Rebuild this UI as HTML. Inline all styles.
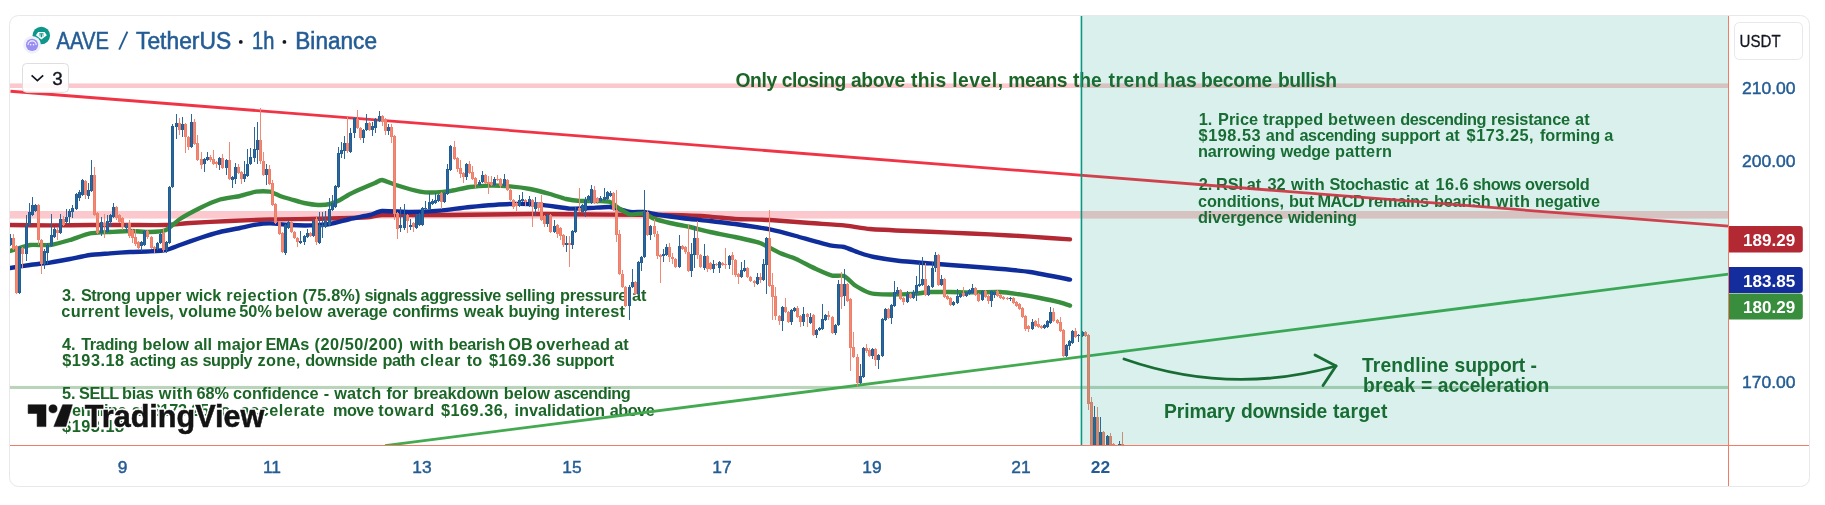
<!DOCTYPE html>
<html><head><meta charset="utf-8"><title>AAVE / TetherUS</title>
<style>
html,body{margin:0;padding:0;background:#fff;}
body{width:1825px;height:505px;overflow:hidden;font-family:"Liberation Sans", sans-serif;}
svg{display:block;font-family:"Liberation Sans", sans-serif;will-change:transform;}
</style></head><body>
<svg width="1825" height="505" viewBox="0 0 1825 505">
<defs><clipPath id="pane"><rect x="10" y="16" width="1718" height="429"/></clipPath></defs>
<rect width="1825" height="505" fill="#fff"/>
<rect x="10" y="83.4" width="1718.5" height="4.6" fill="#f23645" fill-opacity="0.27"/>
<rect x="10" y="211" width="1718.5" height="7.6" fill="#f23645" fill-opacity="0.27"/>
<rect x="10" y="385.9" width="1718.5" height="3.1" fill="#2e7d32" fill-opacity="0.33"/>
<text y="86.8" font-size="19.3" fill="#1b6527" font-weight="bold"><tspan x="735.4" textLength="41.8" lengthAdjust="spacing">Only</tspan><tspan x="781.8" textLength="64.6" lengthAdjust="spacing">closing</tspan><tspan x="851.0" textLength="54.2" lengthAdjust="spacing">above</tspan><tspan x="911.0" textLength="35.2" lengthAdjust="spacing">this</tspan><tspan x="952.2" textLength="50.8" lengthAdjust="spacing">level,</tspan><tspan x="1008.3" textLength="59.2" lengthAdjust="spacing">means</tspan><tspan x="1072.9">the</tspan><tspan x="1108.5" textLength="50.3" lengthAdjust="spacing">trend</tspan><tspan x="1163.5">has</tspan><tspan x="1201.0" textLength="71.2" lengthAdjust="spacing">become</tspan><tspan x="1277.9" textLength="59.2" lengthAdjust="spacing">bullish</tspan></text>
<text y="124.6" font-size="16.3" fill="#1b6527" font-weight="bold"><tspan x="1198.8">1.</tspan><tspan x="1218.0" textLength="40.1" lengthAdjust="spacing">Price</tspan><tspan x="1263.0" textLength="60.1" lengthAdjust="spacing">trapped</tspan><tspan x="1328.0" textLength="67.6" lengthAdjust="spacing">between</tspan><tspan x="1400.3" textLength="86.1" lengthAdjust="spacing">descending</tspan><tspan x="1491.0" textLength="79.1" lengthAdjust="spacing">resistance</tspan><tspan x="1575.1">at</tspan></text>
<text y="141" font-size="16.3" fill="#1b6527" font-weight="bold"><tspan x="1198.6" textLength="61.9" lengthAdjust="spacing">$198.53</tspan><tspan x="1265.8">and</tspan><tspan x="1299.5" textLength="76.6" lengthAdjust="spacing">ascending</tspan><tspan x="1381.0" textLength="59.1" lengthAdjust="spacing">support</tspan><tspan x="1445.3">at</tspan><tspan x="1466.6" textLength="67.0" lengthAdjust="spacing">$173.25,</tspan><tspan x="1540.0" textLength="60.1" lengthAdjust="spacing">forming</tspan><tspan x="1604.2">a</tspan></text>
<text y="157.4" font-size="16.3" fill="#1b6527" font-weight="bold"><tspan x="1198.0" textLength="77.6" lengthAdjust="spacing">narrowing</tspan><tspan x="1280.5" textLength="49.6" lengthAdjust="spacing">wedge</tspan><tspan x="1335.0" textLength="57.0" lengthAdjust="spacing">pattern</tspan></text>
<text y="190.2" font-size="16.3" fill="#1b6527" font-weight="bold"><tspan x="1198.8">2.</tspan><tspan x="1216.0">RSI</tspan><tspan x="1246.8">at</tspan><tspan x="1267.5">32</tspan><tspan x="1291.0" textLength="33.6" lengthAdjust="spacing">with</tspan><tspan x="1329.5" textLength="79.6" lengthAdjust="spacing">Stochastic</tspan><tspan x="1414.8">at</tspan><tspan x="1435.4" textLength="33.2" lengthAdjust="spacing">16.6</tspan><tspan x="1472.7" textLength="48.7" lengthAdjust="spacing">shows</tspan><tspan x="1525.0" textLength="64.6" lengthAdjust="spacing">oversold</tspan></text>
<text y="206.6" font-size="16.3" fill="#1b6527" font-weight="bold"><tspan x="1198.0" textLength="86.1" lengthAdjust="spacing">conditions,</tspan><tspan x="1288.9">but</tspan><tspan x="1317.4" textLength="47.4" lengthAdjust="spacing">MACD</tspan><tspan x="1368.0" textLength="61.1" lengthAdjust="spacing">remains</tspan><tspan x="1434.0" textLength="56.6" lengthAdjust="spacing">bearish</tspan><tspan x="1495.8" textLength="34.1" lengthAdjust="spacing">with</tspan><tspan x="1535.0" textLength="65.0" lengthAdjust="spacing">negative</tspan></text>
<text y="223" font-size="16.3" fill="#1b6527" font-weight="bold"><tspan x="1198.0" textLength="85.1" lengthAdjust="spacing">divergence</tspan><tspan x="1288.0" textLength="69.0" lengthAdjust="spacing">widening</tspan></text>
<text y="300.6" font-size="16.3" fill="#1b6527" font-weight="bold"><tspan x="62.0">3.</tspan><tspan x="80.9" textLength="50.0" lengthAdjust="spacing">Strong</tspan><tspan x="135.5" textLength="45.8" lengthAdjust="spacing">upper</tspan><tspan x="186.2" textLength="35.1" lengthAdjust="spacing">wick</tspan><tspan x="226.2" textLength="71.4" lengthAdjust="spacing">rejection</tspan><tspan x="302.5" textLength="57.9" lengthAdjust="spacing">(75.8%)</tspan><tspan x="364.4" textLength="53.2" lengthAdjust="spacing">signals</tspan><tspan x="420.6" textLength="80.7" lengthAdjust="spacing">aggressive</tspan><tspan x="505.3" textLength="49.8" lengthAdjust="spacing">selling</tspan><tspan x="560.0" textLength="67.4" lengthAdjust="spacing">pressure</tspan><tspan x="631.9">at</tspan></text>
<text y="317.1" font-size="16.3" fill="#1b6527" font-weight="bold"><tspan x="61.2" textLength="58.4" lengthAdjust="spacing">current</tspan><tspan x="124.5" textLength="49.4" lengthAdjust="spacing">levels,</tspan><tspan x="178.8" textLength="57.5" lengthAdjust="spacing">volume</tspan><tspan x="239.3">50%</tspan><tspan x="275.0" textLength="47.4" lengthAdjust="spacing">below</tspan><tspan x="327.3" textLength="60.3" lengthAdjust="spacing">average</tspan><tspan x="392.5" textLength="66.3" lengthAdjust="spacing">confirms</tspan><tspan x="463.7" textLength="40.0" lengthAdjust="spacing">weak</tspan><tspan x="508.6" textLength="51.4" lengthAdjust="spacing">buying</tspan><tspan x="564.9" textLength="59.9" lengthAdjust="spacing">interest</tspan></text>
<text y="349.8" font-size="16.3" fill="#1b6527" font-weight="bold"><tspan x="62.0">4.</tspan><tspan x="81.2" textLength="56.4" lengthAdjust="spacing">Trading</tspan><tspan x="142.5" textLength="46.4" lengthAdjust="spacing">below</tspan><tspan x="193.9">all</tspan><tspan x="217.0" textLength="45.1" lengthAdjust="spacing">major</tspan><tspan x="265.4" textLength="43.8" lengthAdjust="spacing">EMAs</tspan><tspan x="314.6" textLength="88.4" lengthAdjust="spacing">(20/50/200)</tspan><tspan x="410.0" textLength="33.8" lengthAdjust="spacing">with</tspan><tspan x="448.7" textLength="56.4" lengthAdjust="spacing">bearish</tspan><tspan x="508.3">OB</tspan><tspan x="536.0" textLength="73.9" lengthAdjust="spacing">overhead</tspan><tspan x="614.3">at</tspan></text>
<text y="366.3" font-size="16.3" fill="#1b6527" font-weight="bold"><tspan x="62.2" textLength="61.9" lengthAdjust="spacing">$193.18</tspan><tspan x="130.0" textLength="46.3" lengthAdjust="spacing">acting</tspan><tspan x="180.3">as</tspan><tspan x="202.5" textLength="50.1" lengthAdjust="spacing">supply</tspan><tspan x="257.5" textLength="42.9" lengthAdjust="spacing">zone,</tspan><tspan x="305.3" textLength="72.3" lengthAdjust="spacing">downside</tspan><tspan x="382.5" textLength="32.9" lengthAdjust="spacing">path</tspan><tspan x="420.2" textLength="40.1" lengthAdjust="spacing">clear</tspan><tspan x="466.8">to</tspan><tspan x="488.9" textLength="61.9" lengthAdjust="spacing">$169.36</tspan><tspan x="556.0" textLength="58.2" lengthAdjust="spacing">support</tspan></text>
<text y="399.1" font-size="16.3" fill="#1b6527" font-weight="bold"><tspan x="62.0">5.</tspan><tspan x="79.1" textLength="40.2" lengthAdjust="spacing">SELL</tspan><tspan x="122.0" textLength="31.9" lengthAdjust="spacing">bias</tspan><tspan x="158.8" textLength="33.8" lengthAdjust="spacing">with</tspan><tspan x="196.5">68%</tspan><tspan x="233.0" textLength="85.6" lengthAdjust="spacing">confidence</tspan><tspan x="323.7">-</tspan><tspan x="334.2" textLength="46.9" lengthAdjust="spacing">watch</tspan><tspan x="386.4">for</tspan><tspan x="413.4" textLength="85.4" lengthAdjust="spacing">breakdown</tspan><tspan x="503.7" textLength="46.3" lengthAdjust="spacing">below</tspan><tspan x="554.1" textLength="76.6" lengthAdjust="spacing">ascending</tspan></text>
<text y="415.5" font-size="16.3" fill="#1b6527" font-weight="bold"><tspan x="61.2" textLength="65.4" lengthAdjust="spacing">trendline</tspan><tspan x="131.8">at</tspan><tspan x="151.5" textLength="57.6" lengthAdjust="spacing">$173.25</tspan><tspan x="215.1">to</tspan><tspan x="240.5" textLength="84.3" lengthAdjust="spacing">accelerate</tspan><tspan x="332.9" textLength="41.1" lengthAdjust="spacing">move</tspan><tspan x="378.2" textLength="55.9" lengthAdjust="spacing">toward</tspan><tspan x="440.9" textLength="67.0" lengthAdjust="spacing">$169.36,</tspan><tspan x="514.4" textLength="90.5" lengthAdjust="spacing">invalidation</tspan><tspan x="609.7" textLength="45.1" lengthAdjust="spacing">above</tspan></text>
<text y="431.9" font-size="16.3" fill="#1b6527" font-weight="bold"><tspan x="62.1" textLength="61.9" lengthAdjust="spacing">$193.18</tspan></text>
<text y="372.3" font-size="19.3" fill="#1b6527" font-weight="bold"><tspan x="1362.0" textLength="86.8" lengthAdjust="spacing">Trendline</tspan><tspan x="1454.6" textLength="70.6" lengthAdjust="spacing">support</tspan><tspan x="1530.4">-</tspan></text>
<text y="391.6" font-size="19.3" fill="#1b6527" font-weight="bold"><tspan x="1363.0" textLength="52.2" lengthAdjust="spacing">break</tspan><tspan x="1420.9">=</tspan><tspan x="1437.8" textLength="111.4" lengthAdjust="spacing">acceleration</tspan></text>
<text y="418.4" font-size="19.3" fill="#1b6527" font-weight="bold"><tspan x="1164.0" textLength="71.2" lengthAdjust="spacing">Primary</tspan><tspan x="1241.0" textLength="86.2" lengthAdjust="spacing">downside</tspan><tspan x="1333.0" textLength="54.4" lengthAdjust="spacing">target</tspan></text>
<line x1="10.5" y1="91.25" x2="1728.5" y2="226.1" stroke="#f0283c" stroke-opacity="0.95" stroke-width="2.8"/>
<line x1="385" y1="445.6" x2="1728.5" y2="274.2" stroke="#43aa50" stroke-width="2.8"/>
<path d="M1124 359 Q1230 396 1336 366" fill="none" stroke="#1b6527" stroke-width="2.8" stroke-linecap="round"/>
<path d="M1315 355 L1336 366 L1323 385.6" fill="none" stroke="#1b6527" stroke-width="2.8" stroke-linecap="round" stroke-linejoin="round"/>
<g clip-path="url(#pane)">
<path d="M10.0 225.0C13.6 225.0 42.7 225.4 50.0 225.4C57.3 225.4 82.7 225.0 90.0 225.0C97.3 225.0 123.1 225.0 130.0 225.0C136.9 225.0 160.5 225.2 166.0 225.0C171.5 224.8 184.2 223.4 190.0 223.0C195.8 222.6 222.7 221.3 230.0 221.0C237.3 220.7 262.7 219.6 270.0 219.4C277.3 219.2 302.7 219.1 310.0 219.0C317.3 218.9 344.5 218.2 350.0 218.0C355.5 217.8 367.1 217.3 370.0 217.0C372.9 216.7 374.7 215.2 382.0 215.0C389.3 214.8 436.5 215.1 450.0 215.0C463.5 214.9 515.5 214.0 530.0 214.0C544.5 214.0 597.3 214.5 610.0 214.6C622.7 214.7 660.9 214.8 670.0 215.0C679.1 215.2 704.1 216.2 710.0 216.6C715.9 217.0 729.5 218.7 735.0 219.0C740.5 219.3 763.2 219.6 770.0 220.0C776.8 220.4 803.3 222.5 810.0 223.0C816.7 223.5 838.5 224.9 844.0 225.4C849.5 225.9 864.0 228.5 870.0 229.0C876.0 229.5 902.7 230.7 910.0 231.0C917.3 231.3 942.7 232.3 950.0 232.6C957.3 232.9 982.7 234.0 990.0 234.4C997.3 234.8 1022.7 236.1 1030.0 236.6C1037.3 237.1 1066.4 239.1 1070.0 239.4" fill="none" stroke="#b22833" stroke-width="4.4" stroke-linecap="round" stroke-linejoin="round"/>
<path d="M10.0 268.0C11.8 267.7 26.4 265.5 30.0 265.0C33.6 264.5 46.4 263.1 50.0 262.6C53.6 262.1 66.4 259.7 70.0 259.0C73.6 258.3 86.4 255.5 90.0 255.0C93.6 254.5 106.4 253.7 110.0 253.4C113.6 253.1 126.4 252.2 130.0 252.0C133.6 251.8 146.7 251.6 150.0 251.4C153.3 251.2 163.3 250.6 166.0 250.0C168.7 249.4 176.9 246.1 180.0 245.0C183.1 243.9 196.4 239.2 200.0 238.0C203.6 236.8 216.4 232.9 220.0 232.0C223.6 231.1 236.7 228.7 240.0 228.0C243.3 227.3 253.3 225.0 256.0 224.6C258.7 224.2 266.9 223.4 270.0 223.4C273.1 223.4 286.4 224.8 290.0 225.0C293.6 225.2 306.4 225.5 310.0 225.4C313.6 225.3 326.4 224.6 330.0 224.0C333.6 223.4 346.4 219.8 350.0 219.0C353.6 218.2 367.1 215.7 370.0 215.0C372.9 214.3 378.4 211.3 382.0 211.0C385.6 210.7 404.7 212.0 410.0 212.0C415.3 212.0 434.5 211.1 440.0 210.6C445.5 210.1 463.6 207.6 470.0 207.0C476.4 206.4 503.6 204.2 510.0 204.0C516.4 203.8 534.5 204.2 540.0 204.6C545.5 205.0 565.5 208.3 570.0 208.6C574.5 208.9 586.4 208.1 590.0 208.0C593.6 207.9 606.4 206.6 610.0 207.0C613.6 207.4 626.9 211.5 630.0 212.0C633.1 212.5 641.3 211.7 644.0 212.0C646.7 212.3 655.8 214.4 660.0 215.0C664.2 215.6 685.5 218.5 690.0 219.0C694.5 219.5 705.9 220.5 710.0 221.0C714.1 221.5 729.5 223.2 735.0 224.0C740.5 224.8 764.5 228.3 770.0 229.4C775.5 230.5 790.5 234.5 796.0 236.0C801.5 237.5 825.6 244.4 830.0 245.4C834.4 246.4 841.3 246.3 844.0 247.0C846.7 247.7 857.3 252.1 860.0 253.0C862.7 253.9 870.4 256.3 874.0 257.0C877.6 257.7 894.9 260.4 900.0 261.0C905.1 261.6 925.5 263.0 930.0 263.4C934.5 263.8 944.5 264.6 950.0 265.0C955.5 265.4 982.7 267.4 990.0 268.0C997.3 268.6 1022.7 270.9 1030.0 272.0C1037.3 273.1 1066.4 278.9 1070.0 279.6" fill="none" stroke="#0f2e9b" stroke-width="4.4" stroke-linecap="round" stroke-linejoin="round"/>
<path d="M10.0 251.0C11.8 250.5 26.4 245.5 30.0 245.0C33.6 244.5 46.4 245.5 50.0 245.0C53.6 244.5 66.4 241.1 70.0 240.0C73.6 238.9 86.4 234.1 90.0 233.4C93.6 232.7 106.4 232.2 110.0 232.0C113.6 231.8 126.4 231.0 130.0 231.0C133.6 231.0 146.7 232.1 150.0 232.0C153.3 231.9 163.3 231.2 166.0 230.0C168.7 228.8 176.9 221.0 180.0 219.0C183.1 217.0 196.4 209.8 200.0 208.0C203.6 206.2 216.4 200.6 220.0 199.5C223.6 198.4 236.7 196.7 240.0 196.0C243.3 195.3 253.3 192.0 256.0 191.6C258.7 191.2 267.8 191.2 270.0 191.6C272.2 192.0 278.2 195.3 280.0 196.0C281.8 196.7 287.8 198.4 290.0 199.0C292.2 199.6 301.5 202.5 304.0 203.0C306.5 203.5 315.6 204.9 318.0 205.0C320.4 205.1 328.0 204.5 330.0 204.0C332.0 203.5 338.2 200.9 340.0 200.0C341.8 199.1 348.0 195.0 350.0 194.0C352.0 193.0 359.7 189.5 362.0 188.5C364.3 187.5 373.2 183.8 375.0 183.0C376.8 182.2 380.1 179.8 382.0 180.0C383.9 180.2 392.5 183.9 396.0 185.0C399.5 186.1 416.4 190.9 420.0 191.6C423.6 192.3 433.3 192.5 436.0 192.4C438.7 192.3 446.9 191.5 450.0 191.0C453.1 190.5 466.4 187.5 470.0 187.0C473.6 186.5 486.4 185.7 490.0 185.6C493.6 185.5 506.4 186.1 510.0 186.4C513.6 186.7 526.4 188.3 530.0 189.0C533.6 189.7 546.7 193.1 550.0 194.0C553.3 194.9 563.3 198.4 566.0 199.0C568.7 199.6 576.9 200.8 580.0 201.0C583.1 201.2 597.3 200.9 600.0 201.0C602.7 201.1 608.2 201.3 610.0 202.0C611.8 202.7 618.2 207.9 620.0 209.0C621.8 210.1 627.8 214.0 630.0 214.4C632.2 214.8 641.8 213.0 644.0 213.4C646.2 213.8 651.6 217.7 654.0 218.6C656.4 219.5 666.7 222.2 670.0 223.0C673.3 223.8 686.4 226.2 690.0 227.0C693.6 227.8 705.9 231.1 710.0 232.0C714.1 232.9 730.5 236.0 735.0 237.0C739.5 238.0 755.9 241.5 760.0 243.0C764.1 244.5 776.7 251.5 780.0 253.0C783.3 254.5 792.7 257.5 796.0 259.0C799.3 260.5 812.7 267.5 816.0 269.0C819.3 270.5 829.5 275.0 832.0 275.6C834.5 276.2 841.8 275.1 844.0 276.0C846.2 276.9 853.6 284.5 856.0 286.0C858.4 287.5 867.6 292.2 870.0 293.0C872.4 293.8 879.3 294.3 882.0 294.4C884.7 294.5 896.9 294.5 900.0 294.4C903.1 294.3 913.3 293.8 916.0 293.6C918.7 293.4 926.9 292.1 930.0 292.0C933.1 291.9 946.4 292.0 950.0 292.0C953.6 292.0 965.5 292.4 970.0 292.4C974.5 292.4 995.5 291.8 1000.0 292.0C1004.5 292.2 1016.4 293.9 1020.0 294.4C1023.6 294.9 1036.4 297.3 1040.0 298.0C1043.6 298.7 1057.3 301.7 1060.0 302.4C1062.7 303.1 1069.1 305.3 1070.0 305.6" fill="none" stroke="#388e3c" stroke-width="4.4" stroke-linecap="round" stroke-linejoin="round"/>

<path fill="#215d95" d="M9 238h3V245h-3ZM18 247h3V293h-3ZM25 225h3V254h-3ZM28 212h3V225h-3ZM31 205h3V215h-3ZM34 205h3V211h-3ZM43 251h3V264h-3ZM46 245h3V253h-3ZM50 235h3V246h-3ZM53 229h3V237h-3ZM59 219h3V233h-3ZM65 217h3V222h-3ZM68 211h3V217h-3ZM71 208h3V212h-3ZM75 194h3V209h-3ZM78 192h3V198h-3ZM81 180h3V195h-3ZM87 190h3V196h-3ZM90 175h3V191h-3ZM100 222h3V233h-3ZM106 221h3V232h-3ZM109 215h3V222h-3ZM112 207h3V217h-3ZM125 225h3V228h-3ZM140 242h3V246h-3ZM143 231h3V245h-3ZM156 243h3V249h-3ZM159 234h3V243h-3ZM165 242h3V250h-3ZM168 187h3V243h-3ZM171 126h3V187h-3ZM175 123h3V127h-3ZM181 124h3V130h-3ZM190 122h3V147h-3ZM203 159h3V164h-3ZM206 157h3V160h-3ZM218 158h3V165h-3ZM225 160h3V168h-3ZM231 177h3V180h-3ZM234 167h3V179h-3ZM243 174h3V179h-3ZM246 164h3V176h-3ZM249 157h3V164h-3ZM253 149h3V158h-3ZM256 140h3V150h-3ZM265 169h3V175h-3ZM284 225h3V253h-3ZM287 222h3V228h-3ZM299 241h3V243h-3ZM303 236h3V242h-3ZM306 233h3V237h-3ZM312 221h3V236h-3ZM318 225h3V243h-3ZM321 225h3V227h-3ZM324 221h3V227h-3ZM328 209h3V225h-3ZM331 203h3V210h-3ZM334 186h3V207h-3ZM337 153h3V187h-3ZM340 150h3V154h-3ZM343 143h3V151h-3ZM349 133h3V152h-3ZM353 118h3V133h-3ZM362 130h3V138h-3ZM365 123h3V130h-3ZM371 126h3V130h-3ZM374 119h3V128h-3ZM378 116h3V121h-3ZM387 127h3V131h-3ZM399 225h3V228h-3ZM403 215h3V228h-3ZM409 225h3V227h-3ZM415 215h3V228h-3ZM418 214h3V225h-3ZM421 208h3V225h-3ZM424 208h3V209h-3ZM428 202h3V209h-3ZM431 201h3V204h-3ZM434 200h3V203h-3ZM437 195h3V201h-3ZM443 193h3V202h-3ZM446 169h3V194h-3ZM449 146h3V170h-3ZM465 164h3V177h-3ZM478 182h3V185h-3ZM481 175h3V182h-3ZM493 179h3V185h-3ZM503 179h3V186h-3ZM518 200h3V206h-3ZM521 199h3V201h-3ZM528 199h3V202h-3ZM534 203h3V209h-3ZM546 215h3V224h-3ZM553 226h3V232h-3ZM565 243h3V245h-3ZM571 231h3V245h-3ZM574 210h3V232h-3ZM581 205h3V212h-3ZM584 200h3V211h-3ZM587 196h3V200h-3ZM590 189h3V203h-3ZM599 198h3V201h-3ZM603 197h3V200h-3ZM606 192h3V199h-3ZM609 193h3V196h-3ZM628 287h3V306h-3ZM631 282h3V287h-3ZM637 262h3V294h-3ZM640 257h3V263h-3ZM643 212h3V257h-3ZM649 226h3V235h-3ZM662 254h3V256h-3ZM665 247h3V255h-3ZM678 246h3V267h-3ZM690 254h3V271h-3ZM693 238h3V255h-3ZM703 256h3V268h-3ZM712 264h3V269h-3ZM718 262h3V268h-3ZM728 256h3V265h-3ZM740 270h3V277h-3ZM743 268h3V271h-3ZM756 277h3V284h-3ZM762 264h3V280h-3ZM765 238h3V265h-3ZM781 307h3V321h-3ZM790 310h3V322h-3ZM793 308h3V311h-3ZM802 314h3V322h-3ZM809 317h3V323h-3ZM815 330h3V335h-3ZM818 328h3V330h-3ZM821 319h3V329h-3ZM824 315h3V320h-3ZM834 325h3V333h-3ZM837 284h3V325h-3ZM843 284h3V296h-3ZM859 376h3V383h-3ZM862 348h3V377h-3ZM871 349h3V356h-3ZM877 355h3V360h-3ZM881 319h3V356h-3ZM884 309h3V320h-3ZM890 305h3V318h-3ZM893 292h3V306h-3ZM896 290h3V294h-3ZM906 294h3V302h-3ZM912 292h3V298h-3ZM915 285h3V293h-3ZM918 284h3V286h-3ZM921 279h3V285h-3ZM927 286h3V295h-3ZM931 268h3V287h-3ZM934 255h3V268h-3ZM940 279h3V285h-3ZM952 302h3V305h-3ZM956 296h3V303h-3ZM959 294h3V297h-3ZM965 292h3V296h-3ZM968 290h3V294h-3ZM971 288h3V293h-3ZM981 291h3V300h-3ZM990 291h3V301h-3ZM993 292h3V295h-3ZM1009 298h3V299h-3ZM1031 322h3V329h-3ZM1043 325h3V328h-3ZM1046 321h3V327h-3ZM1049 312h3V323h-3ZM1065 345h3V356h-3ZM1068 341h3V346h-3ZM1071 331h3V343h-3ZM1077 335h3V336h-3ZM1081 332h3V336h-3ZM1093 417h3V445h-3ZM1099 432h3V445h-3ZM1106 436h3V445h-3ZM1118 444h3V445h-3Z"/>
<path fill="#ee7e68" d="M12 238h3V249h-3ZM15 246h3V293h-3ZM21 248h3V254h-3ZM37 205h3V240h-3ZM40 240h3V264h-3ZM56 230h3V233h-3ZM62 219h3V225h-3ZM84 181h3V195h-3ZM93 175h3V215h-3ZM96 213h3V233h-3ZM103 223h3V226h-3ZM115 207h3V218h-3ZM118 215h3V222h-3ZM121 218h3V227h-3ZM128 223h3V236h-3ZM131 230h3V238h-3ZM134 237h3V244h-3ZM137 242h3V248h-3ZM146 231h3V237h-3ZM150 237h3V248h-3ZM153 247h3V249h-3ZM162 233h3V250h-3ZM178 123h3V130h-3ZM184 124h3V137h-3ZM187 137h3V147h-3ZM193 122h3V144h-3ZM196 143h3V160h-3ZM200 159h3V165h-3ZM209 157h3V160h-3ZM212 159h3V164h-3ZM215 162h3V164h-3ZM221 158h3V168h-3ZM228 160h3V179h-3ZM237 167h3V173h-3ZM240 172h3V179h-3ZM259 140h3V161h-3ZM262 161h3V175h-3ZM268 169h3V184h-3ZM271 183h3V205h-3ZM274 204h3V223h-3ZM278 222h3V234h-3ZM281 233h3V252h-3ZM290 222h3V232h-3ZM293 232h3V238h-3ZM296 238h3V242h-3ZM309 233h3V236h-3ZM315 219h3V242h-3ZM346 143h3V151h-3ZM356 119h3V128h-3ZM359 128h3V138h-3ZM368 123h3V130h-3ZM381 116h3V122h-3ZM384 119h3V131h-3ZM390 127h3V137h-3ZM393 136h3V214h-3ZM396 213h3V229h-3ZM406 215h3V221h-3ZM412 223h3V227h-3ZM440 193h3V202h-3ZM453 147h3V159h-3ZM456 158h3V169h-3ZM459 168h3V174h-3ZM462 173h3V177h-3ZM468 164h3V173h-3ZM471 172h3V179h-3ZM474 178h3V185h-3ZM484 175h3V183h-3ZM487 182h3V184h-3ZM490 182h3V185h-3ZM496 179h3V180h-3ZM499 179h3V186h-3ZM506 180h3V190h-3ZM509 190h3V200h-3ZM512 200h3V207h-3ZM515 203h3V206h-3ZM524 200h3V202h-3ZM531 200h3V207h-3ZM537 203h3V208h-3ZM540 202h3V220h-3ZM543 216h3V224h-3ZM549 215h3V232h-3ZM556 225h3V234h-3ZM559 228h3V236h-3ZM562 235h3V245h-3ZM568 243h3V245h-3ZM578 208h3V211h-3ZM593 190h3V203h-3ZM596 198h3V202h-3ZM612 193h3V210h-3ZM615 210h3V235h-3ZM618 234h3V274h-3ZM621 274h3V287h-3ZM624 287h3V306h-3ZM634 282h3V294h-3ZM646 212h3V235h-3ZM653 226h3V234h-3ZM656 234h3V256h-3ZM659 255h3V257h-3ZM668 247h3V257h-3ZM671 257h3V259h-3ZM674 259h3V267h-3ZM681 246h3V249h-3ZM684 247h3V252h-3ZM687 252h3V271h-3ZM696 238h3V255h-3ZM699 255h3V267h-3ZM706 256h3V269h-3ZM709 263h3V269h-3ZM715 264h3V265h-3ZM721 263h3V265h-3ZM724 264h3V265h-3ZM731 255h3V260h-3ZM734 260h3V275h-3ZM737 274h3V277h-3ZM746 268h3V277h-3ZM749 277h3V281h-3ZM753 281h3V283h-3ZM759 277h3V280h-3ZM768 238h3V286h-3ZM771 285h3V297h-3ZM774 296h3V316h-3ZM778 316h3V321h-3ZM784 307h3V312h-3ZM787 312h3V322h-3ZM796 308h3V317h-3ZM799 316h3V322h-3ZM806 314h3V317h-3ZM812 315h3V335h-3ZM827 315h3V317h-3ZM831 317h3V333h-3ZM840 284h3V297h-3ZM846 284h3V301h-3ZM849 299h3V348h-3ZM852 347h3V357h-3ZM856 357h3V383h-3ZM865 348h3V351h-3ZM868 350h3V356h-3ZM874 349h3V360h-3ZM887 309h3V318h-3ZM899 290h3V299h-3ZM902 298h3V302h-3ZM909 294h3V298h-3ZM924 279h3V295h-3ZM937 255h3V285h-3ZM943 279h3V297h-3ZM946 296h3V299h-3ZM949 298h3V305h-3ZM962 293h3V296h-3ZM974 288h3V295h-3ZM977 294h3V301h-3ZM984 291h3V297h-3ZM987 296h3V301h-3ZM996 291h3V296h-3ZM999 295h3V298h-3ZM1002 297h3V299h-3ZM1006 298h3V299h-3ZM1012 298h3V303h-3ZM1015 302h3V306h-3ZM1018 304h3V309h-3ZM1021 308h3V317h-3ZM1024 316h3V329h-3ZM1027 326h3V329h-3ZM1034 321h3V326h-3ZM1037 324h3V327h-3ZM1040 326h3V328h-3ZM1052 312h3V321h-3ZM1056 320h3V323h-3ZM1059 322h3V331h-3ZM1062 330h3V356h-3ZM1074 331h3V337h-3ZM1084 332h3V336h-3ZM1087 335h3V404h-3ZM1090 402h3V445h-3ZM1096 417h3V445h-3ZM1102 432h3V445h-3ZM1109 436h3V445h-3ZM1112 444h3V445h-3ZM1121 444h3V445h-3Z"/>
<path fill="#2c669a" d="M10 234h1V246h-1ZM19 246h1V294h-1ZM26 215h1V261h-1ZM29 203h1V226h-1ZM32 197h1V216h-1ZM35 204h1V212h-1ZM44 249h1V269h-1ZM47 243h1V264h-1ZM51 214h1V247h-1ZM54 227h1V238h-1ZM60 214h1V234h-1ZM66 209h1V224h-1ZM69 209h1V224h-1ZM72 205h1V218h-1ZM76 193h1V210h-1ZM79 190h1V201h-1ZM82 179h1V196h-1ZM88 183h1V199h-1ZM91 160h1V192h-1ZM101 217h1V236h-1ZM107 215h1V233h-1ZM110 214h1V227h-1ZM113 203h1V218h-1ZM126 223h1V232h-1ZM141 241h1V251h-1ZM144 230h1V246h-1ZM157 242h1V250h-1ZM160 232h1V244h-1ZM166 241h1V253h-1ZM169 186h1V244h-1ZM172 124h1V188h-1ZM176 114h1V139h-1ZM182 117h1V137h-1ZM191 114h1V148h-1ZM204 158h1V172h-1ZM207 152h1V161h-1ZM219 157h1V170h-1ZM226 159h1V175h-1ZM232 176h1V188h-1ZM235 163h1V184h-1ZM244 161h1V182h-1ZM247 149h1V177h-1ZM250 148h1V165h-1ZM254 127h1V162h-1ZM257 122h1V164h-1ZM266 164h1V185h-1ZM285 224h1V255h-1ZM288 221h1V229h-1ZM300 231h1V244h-1ZM304 235h1V245h-1ZM307 229h1V238h-1ZM313 219h1V237h-1ZM319 212h1V244h-1ZM322 212h1V238h-1ZM325 211h1V228h-1ZM329 198h1V226h-1ZM332 195h1V211h-1ZM335 185h1V208h-1ZM338 147h1V188h-1ZM341 142h1V158h-1ZM344 136h1V159h-1ZM350 128h1V153h-1ZM354 117h1V138h-1ZM363 129h1V143h-1ZM366 114h1V131h-1ZM372 122h1V136h-1ZM375 118h1V133h-1ZM379 111h1V122h-1ZM388 124h1V135h-1ZM400 207h1V232h-1ZM404 204h1V230h-1ZM410 219h1V230h-1ZM416 214h1V229h-1ZM419 213h1V226h-1ZM422 207h1V226h-1ZM425 201h1V210h-1ZM429 193h1V210h-1ZM432 199h1V205h-1ZM435 193h1V204h-1ZM438 194h1V202h-1ZM444 192h1V203h-1ZM447 164h1V195h-1ZM450 145h1V171h-1ZM466 163h1V180h-1ZM479 180h1V186h-1ZM482 171h1V183h-1ZM494 177h1V186h-1ZM504 174h1V187h-1ZM519 195h1V207h-1ZM522 192h1V202h-1ZM529 196h1V207h-1ZM535 197h1V216h-1ZM547 214h1V227h-1ZM554 220h1V233h-1ZM566 236h1V252h-1ZM572 230h1V249h-1ZM575 207h1V233h-1ZM582 204h1V213h-1ZM585 197h1V217h-1ZM588 195h1V201h-1ZM591 185h1V204h-1ZM600 196h1V202h-1ZM604 188h1V201h-1ZM607 191h1V200h-1ZM610 191h1V197h-1ZM629 285h1V320h-1ZM632 269h1V288h-1ZM638 261h1V295h-1ZM641 256h1V271h-1ZM644 190h1V258h-1ZM650 225h1V240h-1ZM663 249h1V262h-1ZM666 244h1V256h-1ZM679 235h1V268h-1ZM691 243h1V277h-1ZM694 226h1V268h-1ZM704 244h1V270h-1ZM713 260h1V273h-1ZM719 261h1V273h-1ZM729 255h1V269h-1ZM741 262h1V278h-1ZM744 260h1V272h-1ZM757 273h1V285h-1ZM763 259h1V281h-1ZM766 237h1V294h-1ZM782 306h1V331h-1ZM791 309h1V325h-1ZM794 307h1V312h-1ZM803 307h1V326h-1ZM810 313h1V324h-1ZM816 329h1V338h-1ZM819 327h1V331h-1ZM822 304h1V330h-1ZM825 314h1V321h-1ZM835 324h1V335h-1ZM838 280h1V326h-1ZM844 269h1V306h-1ZM860 364h1V384h-1ZM863 347h1V378h-1ZM872 348h1V359h-1ZM878 354h1V369h-1ZM882 318h1V357h-1ZM885 308h1V321h-1ZM891 304h1V324h-1ZM894 281h1V307h-1ZM897 287h1V295h-1ZM907 291h1V303h-1ZM913 290h1V299h-1ZM916 276h1V301h-1ZM919 263h1V287h-1ZM922 257h1V286h-1ZM928 285h1V296h-1ZM932 262h1V288h-1ZM935 252h1V272h-1ZM941 275h1V286h-1ZM953 301h1V306h-1ZM957 289h1V304h-1ZM960 293h1V298h-1ZM966 291h1V297h-1ZM969 289h1V295h-1ZM972 284h1V294h-1ZM982 290h1V301h-1ZM991 290h1V307h-1ZM994 291h1V298h-1ZM1010 297h1V301h-1ZM1032 319h1V330h-1ZM1044 324h1V329h-1ZM1047 320h1V328h-1ZM1050 307h1V324h-1ZM1066 344h1V357h-1ZM1069 340h1V350h-1ZM1072 330h1V344h-1ZM1078 334h1V342h-1ZM1082 331h1V337h-1ZM1094 406h1V445h-1ZM1100 417h1V445h-1ZM1107 435h1V445h-1ZM1119 441h1V445h-1Z"/>
<path fill="#f08a76" d="M13 234h1V250h-1ZM16 245h1V294h-1ZM22 247h1V268h-1ZM38 204h1V245h-1ZM41 239h1V274h-1ZM57 227h1V240h-1ZM63 216h1V226h-1ZM85 180h1V199h-1ZM94 167h1V216h-1ZM97 212h1V234h-1ZM104 214h1V238h-1ZM116 206h1V220h-1ZM119 214h1V223h-1ZM122 217h1V230h-1ZM129 220h1V238h-1ZM132 229h1V243h-1ZM135 229h1V246h-1ZM138 241h1V250h-1ZM147 230h1V239h-1ZM151 236h1V249h-1ZM154 246h1V253h-1ZM163 229h1V252h-1ZM179 118h1V135h-1ZM185 123h1V153h-1ZM188 136h1V150h-1ZM194 119h1V145h-1ZM197 135h1V161h-1ZM201 152h1V169h-1ZM210 155h1V162h-1ZM213 150h1V165h-1ZM216 161h1V168h-1ZM222 154h1V169h-1ZM229 142h1V180h-1ZM238 164h1V174h-1ZM241 171h1V184h-1ZM260 108h1V164h-1ZM263 152h1V176h-1ZM269 165h1V185h-1ZM272 180h1V206h-1ZM275 203h1V224h-1ZM279 221h1V235h-1ZM282 232h1V253h-1ZM291 221h1V233h-1ZM294 231h1V239h-1ZM297 237h1V247h-1ZM310 232h1V237h-1ZM316 217h1V245h-1ZM347 117h1V153h-1ZM357 110h1V129h-1ZM360 127h1V140h-1ZM369 122h1V131h-1ZM382 115h1V126h-1ZM385 118h1V135h-1ZM391 124h1V143h-1ZM394 135h1V220h-1ZM397 212h1V239h-1ZM407 214h1V233h-1ZM413 222h1V232h-1ZM441 192h1V209h-1ZM454 141h1V160h-1ZM457 157h1V172h-1ZM460 160h1V178h-1ZM463 172h1V183h-1ZM469 161h1V174h-1ZM472 166h1V180h-1ZM475 177h1V188h-1ZM485 174h1V184h-1ZM488 176h1V194h-1ZM491 176h1V186h-1ZM497 175h1V181h-1ZM500 178h1V188h-1ZM507 179h1V191h-1ZM510 189h1V201h-1ZM513 199h1V209h-1ZM516 202h1V211h-1ZM525 199h1V206h-1ZM532 199h1V227h-1ZM538 202h1V211h-1ZM541 195h1V221h-1ZM544 215h1V227h-1ZM550 214h1V233h-1ZM557 224h1V238h-1ZM560 227h1V240h-1ZM563 234h1V247h-1ZM569 236h1V267h-1ZM579 188h1V212h-1ZM594 186h1V204h-1ZM597 197h1V204h-1ZM613 192h1V211h-1ZM616 190h1V242h-1ZM619 230h1V275h-1ZM622 270h1V288h-1ZM625 286h1V307h-1ZM635 281h1V295h-1ZM647 210h1V236h-1ZM654 219h1V237h-1ZM657 231h1V259h-1ZM660 254h1V283h-1ZM669 243h1V262h-1ZM672 253h1V264h-1ZM675 258h1V268h-1ZM682 245h1V250h-1ZM685 246h1V254h-1ZM688 225h1V272h-1ZM697 221h1V259h-1ZM700 254h1V268h-1ZM707 255h1V272h-1ZM710 262h1V270h-1ZM716 263h1V266h-1ZM722 262h1V266h-1ZM725 248h1V269h-1ZM732 252h1V275h-1ZM735 259h1V277h-1ZM738 273h1V284h-1ZM747 267h1V278h-1ZM750 276h1V282h-1ZM754 280h1V287h-1ZM760 273h1V283h-1ZM769 210h1V287h-1ZM772 273h1V320h-1ZM775 287h1V320h-1ZM779 315h1V325h-1ZM785 298h1V313h-1ZM788 311h1V323h-1ZM797 306h1V318h-1ZM800 315h1V327h-1ZM807 313h1V327h-1ZM813 314h1V336h-1ZM828 311h1V320h-1ZM832 316h1V334h-1ZM841 272h1V309h-1ZM847 283h1V302h-1ZM850 298h1V371h-1ZM853 332h1V358h-1ZM857 354h1V386h-1ZM866 344h1V353h-1ZM869 348h1V357h-1ZM875 348h1V366h-1ZM888 308h1V319h-1ZM900 289h1V300h-1ZM903 297h1V305h-1ZM910 293h1V299h-1ZM925 263h1V296h-1ZM938 254h1V286h-1ZM944 278h1V298h-1ZM947 295h1V300h-1ZM950 297h1V306h-1ZM963 287h1V297h-1ZM975 287h1V296h-1ZM978 293h1V302h-1ZM985 290h1V298h-1ZM988 295h1V304h-1ZM997 290h1V297h-1ZM1000 294h1V299h-1ZM1003 296h1V300h-1ZM1007 297h1V300h-1ZM1013 297h1V304h-1ZM1016 301h1V307h-1ZM1019 303h1V310h-1ZM1022 307h1V318h-1ZM1025 315h1V331h-1ZM1028 325h1V332h-1ZM1035 320h1V327h-1ZM1038 318h1V328h-1ZM1041 325h1V329h-1ZM1053 308h1V322h-1ZM1057 319h1V324h-1ZM1060 317h1V332h-1ZM1063 329h1V357h-1ZM1075 328h1V338h-1ZM1085 331h1V337h-1ZM1088 334h1V410h-1ZM1091 397h1V445h-1ZM1097 407h1V445h-1ZM1103 431h1V445h-1ZM1110 433h1V445h-1ZM1113 443h1V445h-1ZM1122 432h1V445h-1Z"/>
</g>
<rect x="1081" y="15.5" width="647.5" height="430" fill="#089981" fill-opacity="0.15"/>
<rect x="1080.65" y="15.5" width="1.6" height="430" fill="#089981"/>
<rect x="10" y="446" width="1800" height="41" fill="#fff"/>
<rect x="1729" y="15" width="81" height="472" fill="#fff"/>
<rect x="10" y="445" width="1799" height="1" fill="#ee7e68"/>
<rect x="1728" y="16" width="1" height="470.5" fill="#ee7e68"/>
<rect x="9.5" y="15.5" width="1800" height="471" rx="9" ry="9" fill="none" stroke="#e8e8ea" stroke-width="1"/>
<text x="1742" y="93.6" font-size="17.4" fill="#245c95" font-weight="normal" text-anchor="start" textLength="53.6" lengthAdjust="spacingAndGlyphs" stroke="#245c95" stroke-width="0.45">210.00</text>
<text x="1742" y="166.6" font-size="17.4" fill="#245c95" font-weight="normal" text-anchor="start" textLength="53.6" lengthAdjust="spacingAndGlyphs" stroke="#245c95" stroke-width="0.45">200.00</text>
<text x="1742" y="387.8" font-size="17.4" fill="#245c95" font-weight="normal" text-anchor="start" textLength="53.6" lengthAdjust="spacingAndGlyphs" stroke="#245c95" stroke-width="0.45">170.00</text>
<path d="M1729 226 H1799.8 a3 3 0 0 1 3 3 V249.6 a3 3 0 0 1 -3 3 H1729 Z" fill="#b22833"/>
<text x="1743" y="246.0" font-size="17.4" fill="#fff" font-weight="bold" text-anchor="start" textLength="52.2" lengthAdjust="spacingAndGlyphs">189.29</text>
<path d="M1729 267 H1799.8 a3 3 0 0 1 3 3 V290 a3 3 0 0 1 -3 3 H1729 Z" fill="#132e9c"/>
<text x="1743" y="286.7" font-size="17.4" fill="#fff" font-weight="bold" text-anchor="start" textLength="52.2" lengthAdjust="spacingAndGlyphs">183.85</text>
<path d="M1729 293.5 H1799.8 a3 3 0 0 1 3 3 V316.5 a3 3 0 0 1 -3 3 H1729 Z" fill="#388e3c"/>
<text x="1743" y="313.2" font-size="17.4" fill="#fff" font-weight="bold" text-anchor="start" textLength="52.2" lengthAdjust="spacingAndGlyphs">180.29</text>
<rect x="1734.5" y="22.5" width="68" height="37" rx="5" fill="#fff" stroke="#e6e8ee"/>
<text x="1739.6" y="46.6" font-size="17.4" fill="#131722" font-weight="normal" text-anchor="start" textLength="41" lengthAdjust="spacingAndGlyphs" stroke="#131722" stroke-width="0.3">USDT</text>
<text x="122.5" y="472.6" font-size="17.4" fill="#245c95" font-weight="normal" text-anchor="middle" stroke="#245c95" stroke-width="0.45">9</text>
<text x="272" y="472.6" font-size="17.4" fill="#245c95" font-weight="normal" text-anchor="middle" stroke="#245c95" stroke-width="0.45">11</text>
<text x="422" y="472.6" font-size="17.4" fill="#245c95" font-weight="normal" text-anchor="middle" stroke="#245c95" stroke-width="0.45">13</text>
<text x="572" y="472.6" font-size="17.4" fill="#245c95" font-weight="normal" text-anchor="middle" stroke="#245c95" stroke-width="0.45">15</text>
<text x="722" y="472.6" font-size="17.4" fill="#245c95" font-weight="normal" text-anchor="middle" stroke="#245c95" stroke-width="0.45">17</text>
<text x="872" y="472.6" font-size="17.4" fill="#245c95" font-weight="normal" text-anchor="middle" stroke="#245c95" stroke-width="0.45">19</text>
<text x="1021" y="472.6" font-size="17.4" fill="#245c95" font-weight="normal" text-anchor="middle" stroke="#245c95" stroke-width="0.45">21</text>
<text x="1100.5" y="472.6" font-size="17.4" fill="#245c95" font-weight="bold" text-anchor="middle">22</text>
<text x="56.6" y="48.7" font-size="23.5" fill="#245c95" font-weight="normal" text-anchor="start" textLength="52.4" lengthAdjust="spacingAndGlyphs" stroke="#245c95" stroke-width="0.55">AAVE</text>
<text x="136" y="48.7" font-size="23.5" fill="#245c95" font-weight="normal" text-anchor="start" textLength="95.2" lengthAdjust="spacingAndGlyphs" stroke="#245c95" stroke-width="0.55">TetherUS</text>
<text x="252" y="48.7" font-size="23.5" fill="#245c95" font-weight="normal" text-anchor="start" textLength="22.3" lengthAdjust="spacingAndGlyphs" stroke="#245c95" stroke-width="0.55">1h</text>
<text x="295.3" y="48.7" font-size="23.5" fill="#245c95" font-weight="normal" text-anchor="start" textLength="81.7" lengthAdjust="spacingAndGlyphs" stroke="#245c95" stroke-width="0.55">Binance</text>
<circle cx="240.8" cy="41.9" r="1.9" fill="#131722"/><circle cx="284.4" cy="41.9" r="1.9" fill="#131722"/>
<line x1="119.2" y1="49.6" x2="127.4" y2="31.6" stroke="#245c95" stroke-width="1.9"/>
<circle cx="41.3" cy="35.5" r="8.75" fill="#0f968a"/>
<path d="M38.2 32 H44.6 L46.9 35.2 L41.4 39.6 L35.9 35.2 Z" fill="#fff"/>
<path d="M39.3 33.2 H43.5 V34.3 H42 V37.2 H40.8 V34.3 H39.3 Z" fill="#0f968a"/>
<ellipse cx="41.4" cy="35.4" rx="2.6" ry="0.7" fill="none" stroke="#0f968a" stroke-width="0.5"/>
<circle cx="32.1" cy="44.8" r="8.9" fill="#eef0fb"/>
<circle cx="32.05" cy="44.8" r="6.15" fill="#9b8ef3"/>
<path d="M28 45 A4.1 4.1 0 0 1 36.2 45" fill="none" stroke="#fff" stroke-opacity="0.9" stroke-width="1.1"/>
<circle cx="30.6" cy="44.8" r="0.75" fill="#fff"/><circle cx="33.5" cy="44.8" r="0.75" fill="#fff"/>
<rect x="22.5" y="63.5" width="46" height="28.8" rx="4" fill="#fff" fill-opacity="0.88" stroke="#dedee0"/>
<path d="M31.6 75.3 L37.4 80.6 L43.2 75.3" fill="none" stroke="#131722" stroke-width="1.7"/>
<text x="52.2" y="84.6" font-size="18.8" fill="#131722" font-weight="normal" text-anchor="start" stroke="#131722" stroke-width="0.4">3</text>
<g id="tv" fill="#fff" stroke="#fff" stroke-width="3.5" stroke-linejoin="round"><path d="M28.1 404.7 H46 V426.6 H37.1 V413.5 H28.1 Z"/><circle cx="53" cy="408.8" r="4.1"/><path d="M62.7 404.7 H72.4 L65.9 426.6 H53.8 Z"/><text x="84.8" y="426.6" font-size="31" font-weight="bold" textLength="179.5" lengthAdjust="spacingAndGlyphs">TradingView</text></g>
<g id="tv" fill="#131313" stroke="#131313" stroke-width="0.5"><path d="M28.1 404.7 H46 V426.6 H37.1 V413.5 H28.1 Z"/><circle cx="53" cy="408.8" r="4.1"/><path d="M62.7 404.7 H72.4 L65.9 426.6 H53.8 Z"/><text x="84.8" y="426.6" font-size="31" font-weight="bold" textLength="179.5" lengthAdjust="spacingAndGlyphs">TradingView</text></g>
</svg>
</body></html>
